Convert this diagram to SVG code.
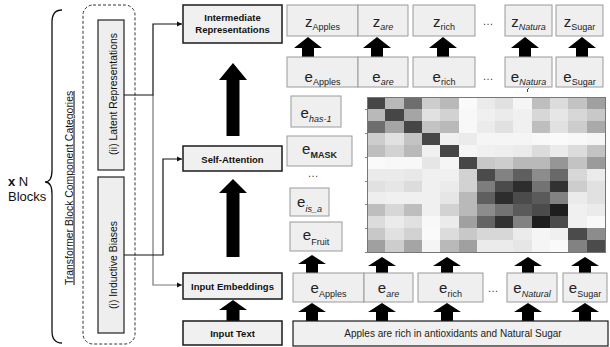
<svg xmlns="http://www.w3.org/2000/svg" width="610" height="347" viewBox="0 0 610 347">
<style>
.tok{fill:#efefef;stroke:#9a9a9a;stroke-width:1}
.blk{fill:#f0f0f0;stroke:#1a1a1a;stroke-width:1.5}
.lbl{font-family:"Liberation Sans",Arial,sans-serif;font-size:9.5px;font-weight:bold;fill:#111;text-anchor:middle}
.tt{font-family:"Liberation Sans",Arial,sans-serif;font-size:15px;fill:#222;text-anchor:middle}
.sub{font-size:9px}
.it{font-style:italic}
.rot{font-family:"Liberation Sans",Arial,sans-serif;font-size:10.4px;fill:#111;text-anchor:middle}
.dots{font-family:"Liberation Sans",Arial,sans-serif;font-size:11px;fill:#444;text-anchor:middle}
.conn{fill:none;stroke:#111;stroke-width:1.2}
.connG{fill:none;stroke:#777;stroke-width:1.2}
.arr{fill:#000}
</style>
<defs>
<marker id="ah" markerWidth="6" markerHeight="6" refX="5" refY="3" orient="auto" markerUnits="userSpaceOnUse"><path d="M0,0.5 L5,3 L0,5.5 Z" fill="#111"/></marker>
<path id="a20" d="M0,0 L14,11 L6,11 L6,20 L-6,20 L-6,11 L-14,11 Z"/>
<path id="a16" d="M0,0 L14,9 L6,9 L6,16 L-6,16 L-6,9 L-14,9 Z"/>
<path id="a18" d="M0,0 L14,9 L6,9 L6,18 L-6,18 L-6,9 L-14,9 Z"/>
</defs>
<rect width="610" height="347" fill="#fff"/>

<!-- brace and N blocks -->
<g id="brace">
<path d="M62,10 Q52,10 52,22 L52,170 Q52,182 45,182 Q52,182 52,194 L52,331 Q52,343 62,343" fill="none" stroke="#111" stroke-width="1.3"/>
<text x="8" y="186" font-family="Liberation Sans,Arial,sans-serif" font-size="13" fill="#111"><tspan font-weight="bold">x</tspan> N</text>
<text x="8" y="201" font-family="Liberation Sans,Arial,sans-serif" font-size="13" fill="#111">Blocks</text>
</g>

<g id="categories">
<rect x="83" y="5" width="52" height="339" rx="10" fill="none" stroke="#333" stroke-width="1" stroke-dasharray="3,2"/>
<text class="rot" transform="translate(72.5,188) rotate(-90)" font-size="9.5" text-decoration="underline">Transformer Block Component Categories</text>
</g>
<g id="latent">
<rect x="98" y="20" width="26" height="150" fill="#eeeeee" stroke="#222" stroke-width="1.2"/>
<text class="rot" transform="translate(116.5,94) rotate(-90)">(ii) Latent Representations</text>
</g>
<g id="inductive">
<rect x="98" y="177" width="26" height="156" fill="#eeeeee" stroke="#222" stroke-width="1.2"/>
<text class="rot" transform="translate(116.5,265) rotate(-90)">(i) Inductive Biases</text>
</g>

<!-- connectors -->
<g id="connectors">
<path class="connG" d="M153,95 L153,285 L182,285" marker-end="url(#ah)"/>
<path class="conn" d="M124,95 L153,95 L153,24 L182,24" marker-end="url(#ah)"/>
<path class="conn" d="M124,255 L163,255 L163,159 L182,159" marker-end="url(#ah)"/>
<path class="arr" d="M233,63 L247,80 L239.5,80 L239.5,136 L226.5,136 L226.5,80 L219,80 Z"/>
<path class="arr" d="M233,179 L247,193 L239.5,193 L239.5,257 L226.5,257 L226.5,193 L219,193 Z"/>
<path class="arr" d="M233,300 L247,310 L239.5,310 L239.5,321 L226.5,321 L226.5,310 L219,310 Z"/>
<g class="arr">
<use href="#a20" x="308" y="37"/><use href="#a20" x="377" y="37"/><use href="#a20" x="443" y="37"/><use href="#a20" x="525" y="37"/><use href="#a20" x="582" y="37"/>
<use href="#a18" x="312" y="255"/><use href="#a16" x="382" y="257"/><use href="#a16" x="447" y="257"/><use href="#a16" x="528" y="257"/><use href="#a16" x="585" y="257"/>
<use href="#a18" x="312" y="303"/><use href="#a18" x="382" y="303"/><use href="#a18" x="447" y="303"/><use href="#a18" x="528" y="303"/><use href="#a18" x="585" y="303"/>
</g>
</g>

<!-- left block nodes -->
<g id="intermediate"><rect class="blk" x="183" y="5" width="99" height="38"/><text class="lbl" x="232.5" y="21">Intermediate</text><text class="lbl" x="232.5" y="33">Representations</text></g>
<g id="selfattention"><rect class="blk" x="183" y="146" width="99" height="25"/><text class="lbl" x="232.5" y="162.5">Self-Attention</text></g>
<g id="inputemb"><rect class="blk" x="183" y="273" width="99" height="26"/><text class="lbl" x="232.5" y="289.5">Input Embeddings</text></g>
<g id="inputtext"><rect class="blk" x="183" y="321" width="99" height="24"/><text class="lbl" x="232.5" y="336.5">Input Text</text></g>

<!-- z row -->
<g id="z-row">
<rect class="tok" x="287" y="5" width="71" height="31"/><text class="tt" x="322.5" y="27">z<tspan class="sub" dy="3">Apples</tspan></text>
<rect class="tok" x="358" y="5" width="50" height="31"/><text class="tt" x="383" y="27">z<tspan class="sub it" dy="3">are</tspan></text>
<rect class="tok" x="413" y="5" width="62" height="31"/><text class="tt" x="444" y="27">z<tspan class="sub" dy="3">rich</tspan></text>
<text class="dots" x="488" y="25">…</text>
<rect class="tok" x="505" y="5" width="47" height="31"/><text class="tt" x="528.5" y="27">z<tspan class="sub it" dy="3">Natura</tspan></text>
<rect class="tok" x="556" y="5" width="47" height="31"/><text class="tt" x="579.5" y="27">z<tspan class="sub" dy="3">Sugar</tspan></text>
</g>

<!-- e top row -->
<g id="e-top-row">
<rect class="tok" x="287" y="57" width="71" height="30"/><text class="tt" x="322.5" y="82">e<tspan class="sub" dy="3">Apples</tspan></text>
<rect class="tok" x="358" y="57" width="50" height="30"/><text class="tt" x="383" y="82">e<tspan class="sub it" dy="3">are</tspan></text>
<rect class="tok" x="413" y="57" width="62" height="30"/><text class="tt" x="444" y="82">e<tspan class="sub" dy="3">rich</tspan></text>
<text class="dots" x="488" y="80">…</text>
<rect class="tok" x="505" y="57" width="47" height="30"/><text class="tt" x="528.5" y="82">e<tspan class="sub it" dy="3">Natura</tspan></text>
<rect class="tok" x="556" y="57" width="47" height="30"/><text class="tt" x="579.5" y="82">e<tspan class="sub" dy="3">Sugar</tspan></text>
</g>

<!-- side tokens -->
<g id="e-has">
<rect class="tok" x="291" y="96" width="50" height="31"/><text class="tt" x="316" y="118">e<tspan class="sub it" dy="4">has-1</tspan></text>
</g>
<g id="e-mask">
<rect class="tok" x="287" y="136" width="65" height="30"/><text class="tt" x="319.5" y="154">e<tspan class="sub" font-weight="bold" dy="4">MASK</tspan></text>
</g>
<text class="dots" x="313" y="177">…</text>
<g id="e-isa">
<rect class="tok" x="290" y="188" width="39" height="28"/><text class="tt" x="309.5" y="207">e<tspan class="sub it" dy="5">is_a</tspan></text>
</g>
<g id="e-fruit">
<rect class="tok" x="290" y="222" width="52" height="29"/><text class="tt" x="316" y="240">e<tspan class="sub" dy="5">Fruit</tspan></text>
</g>

<!-- attention heatmap -->
<g id="heatmap" shape-rendering="crispEdges">
<rect x="367" y="97" width="18.6" height="12.2" fill="rgb(70,70,70)"/><rect x="385.3" y="97" width="18.6" height="12.2" fill="rgb(185,185,185)"/><rect x="403.6" y="97" width="18.6" height="12.2" fill="rgb(110,110,110)"/><rect x="421.9" y="97" width="18.6" height="12.2" fill="rgb(205,205,205)"/><rect x="440.2" y="97" width="18.6" height="12.2" fill="rgb(185,185,185)"/><rect x="458.5" y="97" width="18.6" height="12.2" fill="rgb(250,250,250)"/><rect x="476.8" y="97" width="18.6" height="12.2" fill="rgb(235,235,235)"/><rect x="495.1" y="97" width="18.6" height="12.2" fill="rgb(225,225,225)"/><rect x="513.4" y="97" width="18.6" height="12.2" fill="rgb(245,245,245)"/><rect x="531.7" y="97" width="18.6" height="12.2" fill="rgb(190,190,190)"/><rect x="550" y="97" width="18.6" height="12.2" fill="rgb(220,220,220)"/><rect x="568.3" y="97" width="18.6" height="12.2" fill="rgb(195,195,195)"/><rect x="586.6" y="97" width="18.4" height="12.2" fill="rgb(160,160,160)"/>
<rect x="367" y="108.9" width="18.6" height="12.2" fill="rgb(185,185,185)"/><rect x="385.3" y="108.9" width="18.6" height="12.2" fill="rgb(70,70,70)"/><rect x="403.6" y="108.9" width="18.6" height="12.2" fill="rgb(165,165,165)"/><rect x="421.9" y="108.9" width="18.6" height="12.2" fill="rgb(225,225,225)"/><rect x="440.2" y="108.9" width="18.6" height="12.2" fill="rgb(210,210,210)"/><rect x="458.5" y="108.9" width="18.6" height="12.2" fill="rgb(248,248,248)"/><rect x="476.8" y="108.9" width="18.6" height="12.2" fill="rgb(240,240,240)"/><rect x="495.1" y="108.9" width="18.6" height="12.2" fill="rgb(235,235,235)"/><rect x="513.4" y="108.9" width="18.6" height="12.2" fill="rgb(240,240,240)"/><rect x="531.7" y="108.9" width="18.6" height="12.2" fill="rgb(215,215,215)"/><rect x="550" y="108.9" width="18.6" height="12.2" fill="rgb(230,230,230)"/><rect x="568.3" y="108.9" width="18.6" height="12.2" fill="rgb(215,215,215)"/><rect x="586.6" y="108.9" width="18.4" height="12.2" fill="rgb(200,200,200)"/>
<rect x="367" y="120.8" width="18.6" height="12.2" fill="rgb(110,110,110)"/><rect x="385.3" y="120.8" width="18.6" height="12.2" fill="rgb(165,165,165)"/><rect x="403.6" y="120.8" width="18.6" height="12.2" fill="rgb(70,70,70)"/><rect x="421.9" y="120.8" width="18.6" height="12.2" fill="rgb(195,195,195)"/><rect x="440.2" y="120.8" width="18.6" height="12.2" fill="rgb(185,185,185)"/><rect x="458.5" y="120.8" width="18.6" height="12.2" fill="rgb(248,248,248)"/><rect x="476.8" y="120.8" width="18.6" height="12.2" fill="rgb(235,235,235)"/><rect x="495.1" y="120.8" width="18.6" height="12.2" fill="rgb(225,225,225)"/><rect x="513.4" y="120.8" width="18.6" height="12.2" fill="rgb(240,240,240)"/><rect x="531.7" y="120.8" width="18.6" height="12.2" fill="rgb(190,190,190)"/><rect x="550" y="120.8" width="18.6" height="12.2" fill="rgb(225,225,225)"/><rect x="568.3" y="120.8" width="18.6" height="12.2" fill="rgb(205,205,205)"/><rect x="586.6" y="120.8" width="18.4" height="12.2" fill="rgb(170,170,170)"/>
<rect x="367" y="132.8" width="18.6" height="12.2" fill="rgb(205,205,205)"/><rect x="385.3" y="132.8" width="18.6" height="12.2" fill="rgb(225,225,225)"/><rect x="403.6" y="132.8" width="18.6" height="12.2" fill="rgb(195,195,195)"/><rect x="421.9" y="132.8" width="18.6" height="12.2" fill="rgb(70,70,70)"/><rect x="440.2" y="132.8" width="18.6" height="12.2" fill="rgb(240,240,240)"/><rect x="458.5" y="132.8" width="18.6" height="12.2" fill="rgb(235,235,235)"/><rect x="476.8" y="132.8" width="18.6" height="12.2" fill="rgb(245,245,245)"/><rect x="495.1" y="132.8" width="18.6" height="12.2" fill="rgb(245,245,245)"/><rect x="513.4" y="132.8" width="18.6" height="12.2" fill="rgb(245,245,245)"/><rect x="531.7" y="132.8" width="18.6" height="12.2" fill="rgb(248,248,248)"/><rect x="550" y="132.8" width="18.6" height="12.2" fill="rgb(250,250,250)"/><rect x="568.3" y="132.8" width="18.6" height="12.2" fill="rgb(248,248,248)"/><rect x="586.6" y="132.8" width="18.4" height="12.2" fill="rgb(245,245,245)"/>
<rect x="367" y="144.7" width="18.6" height="12.2" fill="rgb(190,190,190)"/><rect x="385.3" y="144.7" width="18.6" height="12.2" fill="rgb(210,210,210)"/><rect x="403.6" y="144.7" width="18.6" height="12.2" fill="rgb(185,185,185)"/><rect x="421.9" y="144.7" width="18.6" height="12.2" fill="rgb(240,240,240)"/><rect x="440.2" y="144.7" width="18.6" height="12.2" fill="rgb(70,70,70)"/><rect x="458.5" y="144.7" width="18.6" height="12.2" fill="rgb(245,245,245)"/><rect x="476.8" y="144.7" width="18.6" height="12.2" fill="rgb(240,240,240)"/><rect x="495.1" y="144.7" width="18.6" height="12.2" fill="rgb(238,238,238)"/><rect x="513.4" y="144.7" width="18.6" height="12.2" fill="rgb(235,235,235)"/><rect x="531.7" y="144.7" width="18.6" height="12.2" fill="rgb(220,220,220)"/><rect x="550" y="144.7" width="18.6" height="12.2" fill="rgb(235,235,235)"/><rect x="568.3" y="144.7" width="18.6" height="12.2" fill="rgb(220,220,220)"/><rect x="586.6" y="144.7" width="18.4" height="12.2" fill="rgb(195,195,195)"/>
<rect x="367" y="156.6" width="18.6" height="12.2" fill="rgb(250,250,250)"/><rect x="385.3" y="156.6" width="18.6" height="12.2" fill="rgb(248,248,248)"/><rect x="403.6" y="156.6" width="18.6" height="12.2" fill="rgb(248,248,248)"/><rect x="421.9" y="156.6" width="18.6" height="12.2" fill="rgb(230,230,230)"/><rect x="440.2" y="156.6" width="18.6" height="12.2" fill="rgb(245,245,245)"/><rect x="458.5" y="156.6" width="18.6" height="12.2" fill="rgb(70,70,70)"/><rect x="476.8" y="156.6" width="18.6" height="12.2" fill="rgb(200,200,200)"/><rect x="495.1" y="156.6" width="18.6" height="12.2" fill="rgb(205,205,205)"/><rect x="513.4" y="156.6" width="18.6" height="12.2" fill="rgb(185,185,185)"/><rect x="531.7" y="156.6" width="18.6" height="12.2" fill="rgb(185,185,185)"/><rect x="550" y="156.6" width="18.6" height="12.2" fill="rgb(150,150,150)"/><rect x="568.3" y="156.6" width="18.6" height="12.2" fill="rgb(195,195,195)"/><rect x="586.6" y="156.6" width="18.4" height="12.2" fill="rgb(155,155,155)"/>
<rect x="367" y="168.5" width="18.6" height="12.2" fill="rgb(235,235,235)"/><rect x="385.3" y="168.5" width="18.6" height="12.2" fill="rgb(235,235,235)"/><rect x="403.6" y="168.5" width="18.6" height="12.2" fill="rgb(232,232,232)"/><rect x="421.9" y="168.5" width="18.6" height="12.2" fill="rgb(240,240,240)"/><rect x="440.2" y="168.5" width="18.6" height="12.2" fill="rgb(240,240,240)"/><rect x="458.5" y="168.5" width="18.6" height="12.2" fill="rgb(210,210,210)"/><rect x="476.8" y="168.5" width="18.6" height="12.2" fill="rgb(75,75,75)"/><rect x="495.1" y="168.5" width="18.6" height="12.2" fill="rgb(130,130,130)"/><rect x="513.4" y="168.5" width="18.6" height="12.2" fill="rgb(95,95,95)"/><rect x="531.7" y="168.5" width="18.6" height="12.2" fill="rgb(140,140,140)"/><rect x="550" y="168.5" width="18.6" height="12.2" fill="rgb(105,105,105)"/><rect x="568.3" y="168.5" width="18.6" height="12.2" fill="rgb(215,215,215)"/><rect x="586.6" y="168.5" width="18.4" height="12.2" fill="rgb(235,235,235)"/>
<rect x="367" y="180.5" width="18.6" height="12.2" fill="rgb(225,225,225)"/><rect x="385.3" y="180.5" width="18.6" height="12.2" fill="rgb(230,230,230)"/><rect x="403.6" y="180.5" width="18.6" height="12.2" fill="rgb(220,220,220)"/><rect x="421.9" y="180.5" width="18.6" height="12.2" fill="rgb(240,240,240)"/><rect x="440.2" y="180.5" width="18.6" height="12.2" fill="rgb(235,235,235)"/><rect x="458.5" y="180.5" width="18.6" height="12.2" fill="rgb(210,210,210)"/><rect x="476.8" y="180.5" width="18.6" height="12.2" fill="rgb(125,125,125)"/><rect x="495.1" y="180.5" width="18.6" height="12.2" fill="rgb(75,75,75)"/><rect x="513.4" y="180.5" width="18.6" height="12.2" fill="rgb(45,45,45)"/><rect x="531.7" y="180.5" width="18.6" height="12.2" fill="rgb(115,115,115)"/><rect x="550" y="180.5" width="18.6" height="12.2" fill="rgb(50,50,50)"/><rect x="568.3" y="180.5" width="18.6" height="12.2" fill="rgb(205,205,205)"/><rect x="586.6" y="180.5" width="18.4" height="12.2" fill="rgb(225,225,225)"/>
<rect x="367" y="192.4" width="18.6" height="12.2" fill="rgb(238,238,238)"/><rect x="385.3" y="192.4" width="18.6" height="12.2" fill="rgb(240,240,240)"/><rect x="403.6" y="192.4" width="18.6" height="12.2" fill="rgb(240,240,240)"/><rect x="421.9" y="192.4" width="18.6" height="12.2" fill="rgb(240,240,240)"/><rect x="440.2" y="192.4" width="18.6" height="12.2" fill="rgb(230,230,230)"/><rect x="458.5" y="192.4" width="18.6" height="12.2" fill="rgb(185,185,185)"/><rect x="476.8" y="192.4" width="18.6" height="12.2" fill="rgb(95,95,95)"/><rect x="495.1" y="192.4" width="18.6" height="12.2" fill="rgb(45,45,45)"/><rect x="513.4" y="192.4" width="18.6" height="12.2" fill="rgb(75,75,75)"/><rect x="531.7" y="192.4" width="18.6" height="12.2" fill="rgb(90,90,90)"/><rect x="550" y="192.4" width="18.6" height="12.2" fill="rgb(130,130,130)"/><rect x="568.3" y="192.4" width="18.6" height="12.2" fill="rgb(235,235,235)"/><rect x="586.6" y="192.4" width="18.4" height="12.2" fill="rgb(225,225,225)"/>
<rect x="367" y="204.3" width="18.6" height="12.2" fill="rgb(190,190,190)"/><rect x="385.3" y="204.3" width="18.6" height="12.2" fill="rgb(215,215,215)"/><rect x="403.6" y="204.3" width="18.6" height="12.2" fill="rgb(190,190,190)"/><rect x="421.9" y="204.3" width="18.6" height="12.2" fill="rgb(240,240,240)"/><rect x="440.2" y="204.3" width="18.6" height="12.2" fill="rgb(210,210,210)"/><rect x="458.5" y="204.3" width="18.6" height="12.2" fill="rgb(185,185,185)"/><rect x="476.8" y="204.3" width="18.6" height="12.2" fill="rgb(140,140,140)"/><rect x="495.1" y="204.3" width="18.6" height="12.2" fill="rgb(115,115,115)"/><rect x="513.4" y="204.3" width="18.6" height="12.2" fill="rgb(90,90,90)"/><rect x="531.7" y="204.3" width="18.6" height="12.2" fill="rgb(75,75,75)"/><rect x="550" y="204.3" width="18.6" height="12.2" fill="rgb(30,30,30)"/><rect x="568.3" y="204.3" width="18.6" height="12.2" fill="rgb(240,240,240)"/><rect x="586.6" y="204.3" width="18.4" height="12.2" fill="rgb(235,235,235)"/>
<rect x="367" y="216.2" width="18.6" height="12.2" fill="rgb(220,220,220)"/><rect x="385.3" y="216.2" width="18.6" height="12.2" fill="rgb(235,235,235)"/><rect x="403.6" y="216.2" width="18.6" height="12.2" fill="rgb(225,225,225)"/><rect x="421.9" y="216.2" width="18.6" height="12.2" fill="rgb(248,248,248)"/><rect x="440.2" y="216.2" width="18.6" height="12.2" fill="rgb(235,235,235)"/><rect x="458.5" y="216.2" width="18.6" height="12.2" fill="rgb(160,160,160)"/><rect x="476.8" y="216.2" width="18.6" height="12.2" fill="rgb(100,100,100)"/><rect x="495.1" y="216.2" width="18.6" height="12.2" fill="rgb(50,50,50)"/><rect x="513.4" y="216.2" width="18.6" height="12.2" fill="rgb(130,130,130)"/><rect x="531.7" y="216.2" width="18.6" height="12.2" fill="rgb(30,30,30)"/><rect x="550" y="216.2" width="18.6" height="12.2" fill="rgb(75,75,75)"/><rect x="568.3" y="216.2" width="18.6" height="12.2" fill="rgb(240,240,240)"/><rect x="586.6" y="216.2" width="18.4" height="12.2" fill="rgb(248,248,248)"/>
<rect x="367" y="228.2" width="18.6" height="12.2" fill="rgb(200,200,200)"/><rect x="385.3" y="228.2" width="18.6" height="12.2" fill="rgb(225,225,225)"/><rect x="403.6" y="228.2" width="18.6" height="12.2" fill="rgb(210,210,210)"/><rect x="421.9" y="228.2" width="18.6" height="12.2" fill="rgb(250,250,250)"/><rect x="440.2" y="228.2" width="18.6" height="12.2" fill="rgb(220,220,220)"/><rect x="458.5" y="228.2" width="18.6" height="12.2" fill="rgb(200,200,200)"/><rect x="476.8" y="228.2" width="18.6" height="12.2" fill="rgb(215,215,215)"/><rect x="495.1" y="228.2" width="18.6" height="12.2" fill="rgb(215,215,215)"/><rect x="513.4" y="228.2" width="18.6" height="12.2" fill="rgb(235,235,235)"/><rect x="531.7" y="228.2" width="18.6" height="12.2" fill="rgb(245,245,245)"/><rect x="550" y="228.2" width="18.6" height="12.2" fill="rgb(240,240,240)"/><rect x="568.3" y="228.2" width="18.6" height="12.2" fill="rgb(75,75,75)"/><rect x="586.6" y="228.2" width="18.4" height="12.2" fill="rgb(140,140,140)"/>
<rect x="367" y="240.1" width="18.6" height="11.9" fill="rgb(160,160,160)"/><rect x="385.3" y="240.1" width="18.6" height="11.9" fill="rgb(205,205,205)"/><rect x="403.6" y="240.1" width="18.6" height="11.9" fill="rgb(165,165,165)"/><rect x="421.9" y="240.1" width="18.6" height="11.9" fill="rgb(245,245,245)"/><rect x="440.2" y="240.1" width="18.6" height="11.9" fill="rgb(185,185,185)"/><rect x="458.5" y="240.1" width="18.6" height="11.9" fill="rgb(160,160,160)"/><rect x="476.8" y="240.1" width="18.6" height="11.9" fill="rgb(235,235,235)"/><rect x="495.1" y="240.1" width="18.6" height="11.9" fill="rgb(235,235,235)"/><rect x="513.4" y="240.1" width="18.6" height="11.9" fill="rgb(230,230,230)"/><rect x="531.7" y="240.1" width="18.6" height="11.9" fill="rgb(245,245,245)"/><rect x="550" y="240.1" width="18.6" height="11.9" fill="rgb(250,250,250)"/><rect x="568.3" y="240.1" width="18.6" height="11.9" fill="rgb(130,130,130)"/><rect x="586.6" y="240.1" width="18.4" height="11.9" fill="rgb(75,75,75)"/>
<rect x="367" y="97" width="238" height="155" fill="none" stroke="#777" stroke-width="1"/>
<path d="M365,109 h2 M365,133 h2 M365,157 h2 M365,181 h2 M365,204 h2 M365,228 h2 M365,252 h2" stroke="#666" stroke-width="0.8"/>
<path d="M528.5,88 L527,92" stroke="#333" stroke-width="0.9"/>
</g>

<!-- e bottom row -->
<g id="e-bottom-row">
<rect class="tok" x="293" y="273" width="71" height="29"/><text class="tt" x="328.5" y="293">e<tspan class="sub" dy="4">Apples</tspan></text>
<rect class="tok" x="364" y="273" width="49" height="29"/><text class="tt" x="388.5" y="293">e<tspan class="sub it" dy="4">are</tspan></text>
<rect class="tok" x="418" y="273" width="65" height="29"/><text class="tt" x="450.5" y="293">e<tspan class="sub" dy="4">rich</tspan></text>
<text class="dots" x="493" y="292">…</text>
<rect class="tok" x="507" y="273" width="50" height="29"/><text class="tt" x="532" y="293">e<tspan class="sub it" dy="4">Natural</tspan></text>
<rect class="tok" x="563" y="273" width="44" height="29"/><text class="tt" x="585" y="293">e<tspan class="sub" dy="4">Sugar</tspan></text>
</g>

<g id="sentence">
<rect x="293" y="321" width="315" height="25" fill="#f0f0f0" stroke="#1a1a1a" stroke-width="1.2"/>
<text x="453" y="337" font-family="Liberation Sans,Arial,sans-serif" font-size="10" fill="#222" text-anchor="middle">Apples are rich in antioxidants and Natural Sugar</text>
</g>
</svg>
